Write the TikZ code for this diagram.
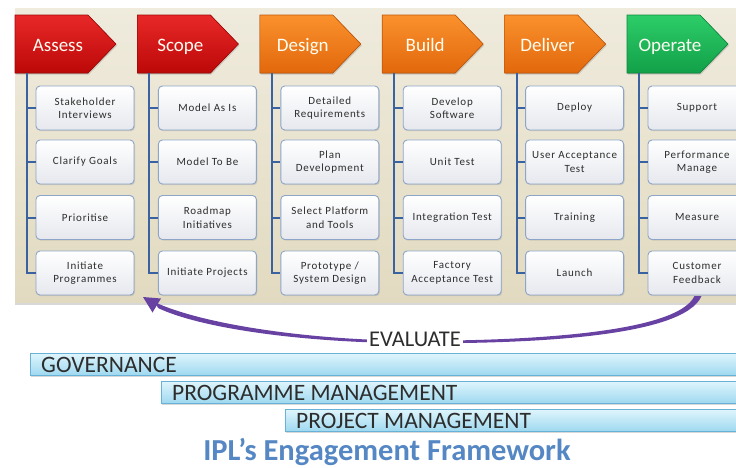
\documentclass[tikz,border=0pt]{standalone}
\usepackage{fontspec}
\setmainfont{Carlito}
\newfontfamily\boxfont[LetterSpace=7]{Carlito}
\usetikzlibrary{shadows,arrows.meta}
\definecolor{panelT}{RGB}{239,235,221}
\definecolor{panelB}{RGB}{226,218,192}
\definecolor{redT}{RGB}{232,40,40}
\definecolor{redB}{RGB}{188,8,8}
\definecolor{orT}{RGB}{250,145,45}
\definecolor{orB}{RGB}{226,104,12}
\definecolor{grT}{RGB}{45,205,105}
\definecolor{grB}{RGB}{18,160,72}
\definecolor{boxB}{RGB}{230,232,238}
\definecolor{boxline}{RGB}{140,165,200}
\definecolor{conncol}{RGB}{58,98,160}
\definecolor{barT}{RGB}{222,245,252}
\definecolor{barB}{RGB}{158,216,240}
\definecolor{barline}{RGB}{105,178,215}
\definecolor{titlecol}{RGB}{84,135,195}
\definecolor{purp}{RGB}{104,66,162}
\definecolor{txt}{RGB}{45,45,45}
\tikzset{
  chev/.style={line width=0.6pt, drop shadow={shadow xshift=1pt,shadow yshift=-1.5pt,opacity=0.3}},
  chevtext/.style={font=\fontsize{19}{22}\selectfont, text=white!95!yellow, inner sep=0pt, anchor=base},
  stepbox/.style={draw=boxline, line width=0.9pt, rounded corners=4pt, top color=white, bottom color=boxB,
     minimum width=98pt, minimum height=44pt, inner sep=1pt, align=center,
     font=\boxfont\fontsize{11}{13.5}\selectfont, text=txt,
     drop shadow={shadow xshift=1pt,shadow yshift=-1.2pt,opacity=0.25}},
  conn/.style={draw=conncol, line width=2pt},
  bar/.style={draw=barline, line width=0.8pt, top color=barT, bottom color=barB, minimum height=22pt,
     inner sep=0pt, anchor=west, drop shadow={shadow xshift=1pt,shadow yshift=-1.5pt,opacity=0.3}},
  bartext/.style={font=\fontsize{23.5}{25}\selectfont, text=txt, anchor=west, inner sep=0pt},
}
\newcommand\phasecol[8]{%
  \pgfmathsetmacro\Lx{15+122.4*#1}%
  \pgfmathsetmacro\Rx{\Lx+73}%
  \pgfmathsetmacro\Tx{\Lx+101}%
  \pgfmathsetmacro\Cx{\Lx+43}%
  \pgfmathsetmacro\Bx{\Lx+70}%
  \pgfmathsetmacro\Vx{\Lx+12}%
  \filldraw[chev, top color=#3, bottom color=#4, draw=#4!85!black]
     (\Lx,15) -- (\Rx,15) -- (\Tx,44) -- (\Rx,73) -- (\Lx,73) -- cycle;
  \node[chevtext] (h#1) at (\Cx,51.5) {#2};
  \coordinate (v#1) at (\Vx,73);
  \node[stepbox] (b#1-1) at (\Bx,108) {#5};
  \node[stepbox] (b#1-2) at (\Bx,162) {#6};
  \node[stepbox] (b#1-3) at (\Bx,217.5) {#7};
  \node[stepbox] (b#1-4) at (\Bx,273) {#8};
  \draw[conn] (v#1) |- (b#1-4.west);
  \draw[conn] (v#1 |- b#1-1.west) -- (b#1-1.west);
  \draw[conn] (v#1 |- b#1-2.west) -- (b#1-2.west);
  \draw[conn] (v#1 |- b#1-3.west) -- (b#1-3.west);
}
\begin{document}
\begin{tikzpicture}[x=1pt,y=-1pt]
\useasboundingbox (0,0) rectangle (736,467);
\clip (0,0) rectangle (736,467);
\fill[white] (0,0) rectangle (736,467);
% panel
\fill[top color=panelT, bottom color=panelB, drop shadow={shadow xshift=0pt,shadow yshift=-3pt,opacity=0.3}]
  (15,8) rectangle (760,302);
\phasecol{0}{Assess}{redT}{redB}{Stakeholder\\Interviews}{Clarify Goals}{Prioritise}{Initiate\\Programmes}
\phasecol{1}{Scope}{redT}{redB}{Model As Is}{Model To Be}{Roadmap\\Initiatives}{Initiate Projects}
\phasecol{2}{Design}{orT}{orB}{Detailed\\Requirements}{Plan\\Development}{Select Platform\\and Tools}{Prototype /\\System Design}
\phasecol{3}{Build}{orT}{orB}{Develop\\Software}{Unit Test}{Integration Test}{Factory\\Acceptance Test}
\phasecol{4}{Deliver}{orT}{orB}{Deploy}{User Acceptance\\Test}{Training}{Launch}
\phasecol{5}{Operate}{grT}{grB}{Support}{Performance\\Manage}{Measure}{Customer\\Feedback}
% evaluate arrow
\coordinate (arrR) at (698,296);
\coordinate (arrTip) at (143,297);
\fill[purp]
  (158,308) .. controls (200,328) and (300,342.5) .. (410,343.2)
  .. controls (532,344) and (684,337) .. (701.5,296)
  -- (694.5,296) .. controls (677,333) and (528,341) .. (410,340.8)
  .. controls (300,339.5) and (200,323) .. (155.5,302.5) -- cycle;
\fill[purp] (arrTip) -- (161,298.5) -- (152.5,312.5) -- cycle;
\node[font=\fontsize{22.5}{24}\selectfont, text=txt, fill=white, inner xsep=2pt, inner ysep=0pt] (ev) at (415,339) {EVALUATE};
% bars
\node[bar, minimum width=720pt] (gov) at (30,364.5) {};
\node[bartext] (govt) at ([xshift=11pt]gov.west) {GOVERNANCE};
\node[bar, minimum width=600pt] (prog) at (161,392.5) {};
\node[bartext] (progt) at ([xshift=11pt]prog.west) {PROGRAMME MANAGEMENT};
\node[bar, minimum width=480pt] (proj) at (285,420.5) {};
\node[bartext] (projt) at ([xshift=11pt]proj.west) {PROJECT MANAGEMENT};
% title
\node[font=\bfseries\fontsize{30.5}{32}\selectfont, text=titlecol] (title) at (387,452) {IPL’s Engagement Framework};
\end{tikzpicture}
\end{document}
